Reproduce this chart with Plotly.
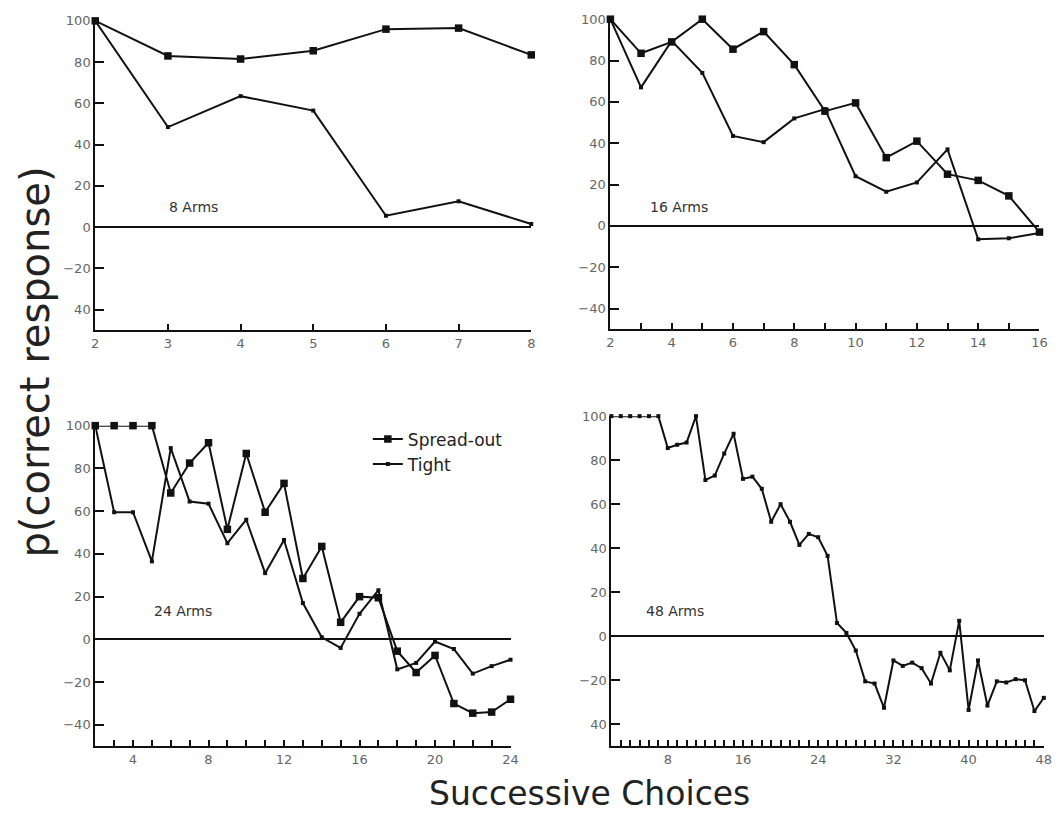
import plotly.graph_objects as go

W, H = 1063, 813

# ---- data: p(correct response) by successive choice ----
x8 = [2, 3, 4, 5, 6, 7, 8]
spread8 = [100, 83, 81.5, 85.5, 96, 96.5, 83.5]
tight8 = [100, 48.5, 63.5, 56.5, 5.5, 12.5, 1.5]

x16 = list(range(2, 17))
spread16 = [100, 83.5, 89, 100, 85.5, 94, 78, 55.5, 59.5, 33, 41, 25, 22, 14.5, -3]
tight16 = [100, 67, 89.5, 74, 43.5, 40.5, 52, 56.5, 24, 16.5, 21, 37, -6.5, -6, -3.5]

x24 = list(range(2, 25))
spread24 = [100, 100, 100, 100, 68.5, 82.5, 92, 51.5, 87, 59.5, 73, 28.5, 43.5,
            8, 20, 19.5, -5.5, -15.5, -7.5, -30, -34.5, -34, -28]
tight24 = [100, 59.5, 59.5, 36.5, 89.5, 64.5, 63.5, 45, 56, 31, 46.5, 17, 1,
           -4, 12, 23, -14, -11, -1, -4.5, -16, -12.5, -9.5]

x48 = list(range(2, 49))
series48 = [100, 100, 100, 100, 100, 100, 85.5, 87, 88, 100, 71, 73, 83, 92,
            71.5, 72.5, 67, 52, 60, 52, 41.5, 46.5, 45, 36.5, 6, 1.5, -6.5,
            -20.5, -21.5, -32.5, -11, -13.5, -12, -14.5, -21.5, -7.5, -15.5, 7,
            -33.5, -11, -31.5, -20.5, -21, -19.5, -20, -34, -28]

panel_labels = ["8 Arms", "16 Arms", "24 Arms", "48 Arms"]
legend_names = ["Spread-out", "Tight"]

y_tickvals = [100, 80, 60, 40, 20, 0, -20, -40]
y_ticktext_a = ["100", "80", "60", "40", "20", "0", "\u221220", "40"]
y_ticktext_b = ["100", "80", "60", "40", "20", "0", "\u221220", "\u221240"]

x8_labels = [2, 3, 4, 5, 6, 7, 8]
x16_labels = [2, 4, 6, 8, 10, 12, 14, 16]
x24_labels = [4, 8, 12, 16, 20, 24]
x48_labels = [8, 16, 24, 32, 40, 48]

FONT = "DejaVu Sans"
INK = "#111111"


def px_dom_x(a, b):
    return [a / W, b / W]


def px_dom_y(top, bottom):
    return [1 - bottom / H, 1 - top / H]


fig = go.Figure()

big = dict(symbol="square", size=7.5, color=INK)
small = dict(symbol="square", size=4, color=INK)
line = dict(color=INK, width=2)

# panel 1
fig.add_trace(go.Scatter(x=x8, y=spread8, mode="lines+markers", line=line, marker=big,
                         xaxis="x", yaxis="y", showlegend=False, cliponaxis=False))
fig.add_trace(go.Scatter(x=x8, y=tight8, mode="lines+markers", line=line, marker=small,
                         xaxis="x", yaxis="y", showlegend=False, cliponaxis=False))
# panel 2
fig.add_trace(go.Scatter(x=x16, y=spread16, mode="lines+markers", line=line, marker=big,
                         xaxis="x2", yaxis="y2", showlegend=False, cliponaxis=False))
fig.add_trace(go.Scatter(x=x16, y=tight16, mode="lines+markers", line=line, marker=small,
                         xaxis="x2", yaxis="y2", showlegend=False, cliponaxis=False))
# panel 3 (carries the legend)
fig.add_trace(go.Scatter(x=x24, y=spread24, mode="lines+markers", line=line, marker=big,
                         xaxis="x3", yaxis="y3", name=legend_names[0], cliponaxis=False))
fig.add_trace(go.Scatter(x=x24, y=tight24, mode="lines+markers", line=line, marker=small,
                         xaxis="x3", yaxis="y3", name=legend_names[1], cliponaxis=False))
# panel 4
fig.add_trace(go.Scatter(x=x48, y=series48, mode="lines+markers", line=line, marker=small,
                         xaxis="x4", yaxis="y4", showlegend=False, cliponaxis=False))


def xaxis(dom, anchor, xmax, labels):
    vals = list(range(2, xmax + 1))
    text = [str(v) if v in labels else "" for v in vals]
    return dict(domain=dom, anchor=anchor, range=[2, xmax], showgrid=False,
                zeroline=False, showline=True, linecolor=INK, linewidth=2,
                ticks="inside", ticklen=6, tickwidth=1.5, tickcolor=INK,
                tickmode="array", tickvals=vals, ticktext=text,
                tickfont=dict(family=FONT, size=13, color="#666666"))


def yaxis(dom, anchor, ticktext):
    return dict(domain=dom, anchor=anchor, range=[-50, 100], showgrid=False,
                zeroline=True, zerolinecolor=INK, zerolinewidth=1.8,
                showline=True, linecolor=INK, linewidth=2,
                ticks="inside", ticklen=9, tickwidth=1.5, tickcolor=INK,
                tickmode="array", tickvals=y_tickvals, ticktext=ticktext,
                tickfont=dict(family=FONT, size=13, color="#666666"))


dx1 = px_dom_x(92.3, 533.3)
dy1 = px_dom_y(14, 326)
dx2 = px_dom_x(613.3, 1047.3)
dy2 = px_dom_y(12.3, 325)
dx3 = px_dom_x(92.3, 512.3)
dy3 = px_dom_y(422.3, 745.7)
dx4 = px_dom_x(614.3, 1051.7)
dy4 = px_dom_y(412.7, 745.7)

fig.update_layout(
    width=W, height=H,
    margin=dict(l=0, r=0, t=0, b=0),
    paper_bgcolor="white", plot_bgcolor="white",
    font=dict(family=FONT, color=INK),
    xaxis=xaxis(dx1, "y", 8, x8_labels),
    yaxis=yaxis(dy1, "x", y_ticktext_a),
    xaxis2=xaxis(dx2, "y2", 16, x16_labels),
    yaxis2=yaxis(dy2, "x2", y_ticktext_b),
    xaxis3=xaxis(dx3, "y3", 24, x24_labels),
    yaxis3=yaxis(dy3, "x3", y_ticktext_b),
    xaxis4=xaxis(dx4, "y4", 48, x48_labels),
    yaxis4=yaxis(dy4, "x4", y_ticktext_a),
    showlegend=True,
    legend=dict(x=368 / W, y=1 - 418 / H, xanchor="left", yanchor="top",
                bgcolor="rgba(0,0,0,0)", itemwidth=30,
                font=dict(family=FONT, size=17, color="#222222"),
                tracegroupgap=0),
)

label_pos = [(165, 202), (651, 202), (150, 609), (647, 609)]
for text, (lx, ly) in zip(panel_labels, label_pos):
    fig.add_annotation(text=text, xref="paper", yref="paper", x=lx / W, y=1 - ly / H,
                       xanchor="left", yanchor="middle", showarrow=False,
                       font=dict(family=FONT, size=14, color="#333333"))

fig.add_annotation(text="Successive Choices", xref="paper", yref="paper",
                   x=592 / W, y=1 - 793 / H, xanchor="center", yanchor="middle",
                   showarrow=False, font=dict(family=FONT, size=33, color="#222222"))
fig.add_annotation(text="p(correct response)", xref="paper", yref="paper",
                   x=31 / W, y=1 - 358 / H, xanchor="center", yanchor="middle",
                   textangle=-90, showarrow=False,
                   font=dict(family=FONT, size=40, color="#222222"))

fig.write_html("out.html")
